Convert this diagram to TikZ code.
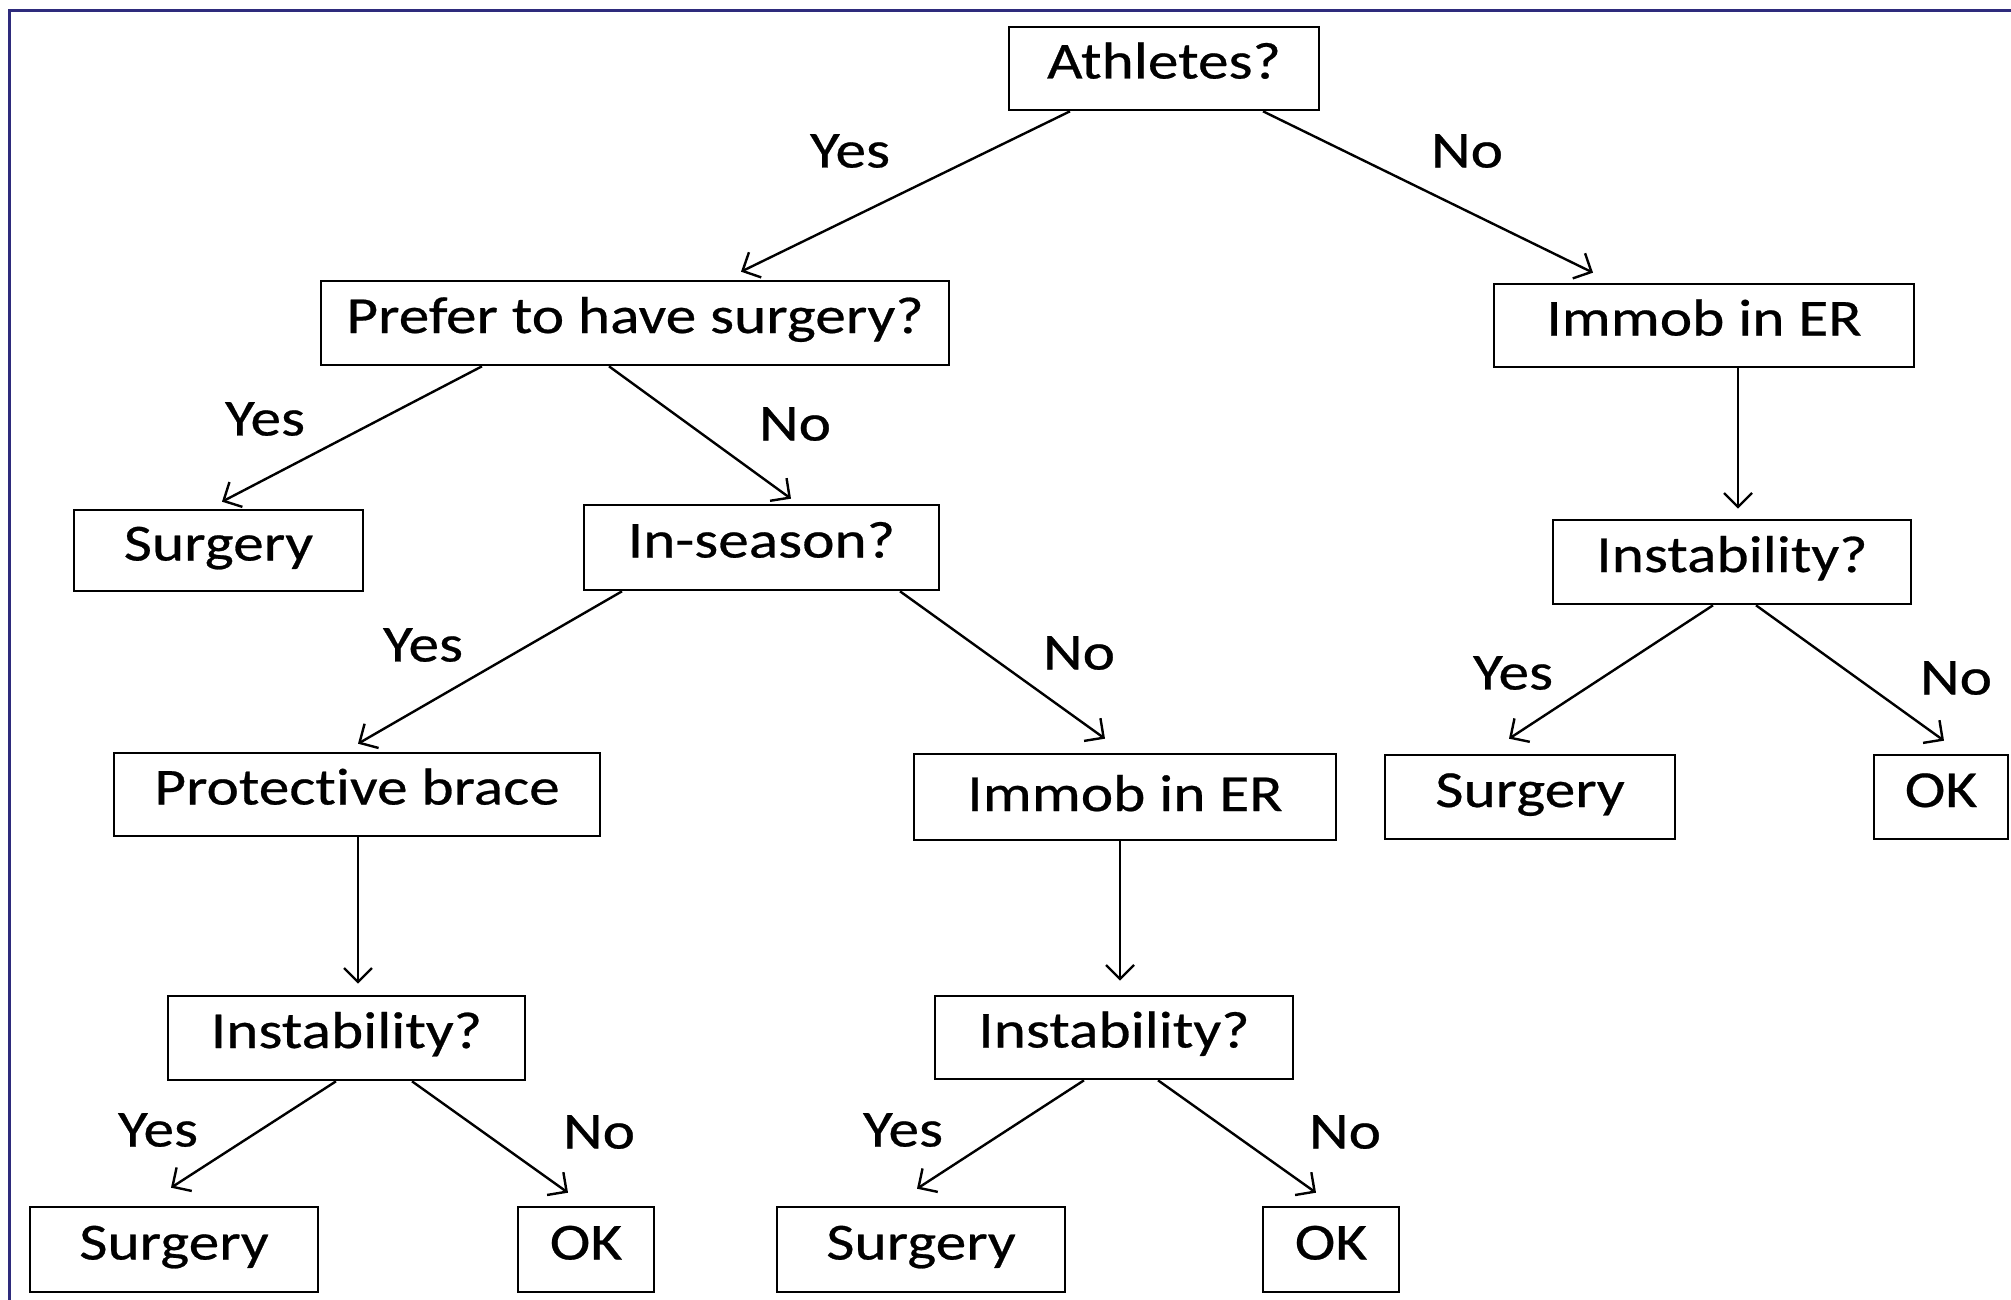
\documentclass[tikz,border=0pt]{standalone}
\usepackage{fontspec}
\setmainfont{Carlito}[FakeStretch=1.18,FakeBold=0.5,RawFeature=-liga]
\usetikzlibrary{arrows.meta}
\definecolor{framecol}{HTML}{2E2B7C}
\begin{document}
\begin{tikzpicture}[x=1pt,y=-1pt,
  box/.style={draw, line width=2.6pt, inner sep=0pt, text height=36pt, text depth=16pt,
    font=\fontsize{52}{60}\selectfont},
  lbl/.style={inner sep=0pt, font=\fontsize{52}{60}\selectfont},
  arr/.style={line width=2.4pt, -{Straight Barb[length=14pt,width=28pt,line width=2.4pt]}}]
\useasboundingbox (0,0) rectangle (2011,1300);
\draw[framecol, line width=3pt] (9,1300) -- (9,11) -- (2011,11);

% boxes
\node[box, minimum width=310pt, minimum height=83pt] (ath) at (1164,68.5) {Athletes?};
\node[box, minimum width=420pt, minimum height=83pt] (immR) at (1704,325.5) {Immob in ER};
\node[box, minimum width=628pt, minimum height=84pt] (pref) at (635,323) {Prefer to have surgery?};
\node[box, minimum width=289pt, minimum height=81pt] (surgA) at (218.5,550.5) {Surgery};
\node[box, minimum width=355pt, minimum height=85pt] (inseas) at (761.5,547.5) {In-season?};
\node[box, minimum width=358pt, minimum height=84pt] (instR) at (1732,562) {Instability?};
\node[box, minimum width=290pt, minimum height=84pt] (surgR) at (1530,797) {Surgery};
\node[box, minimum width=134pt, minimum height=84pt] (okR) at (1941,797) {OK};
\node[box, minimum width=486pt, minimum height=83pt] (brace) at (357,794.5) {Protective brace};
\node[box, minimum width=422pt, minimum height=86pt, text depth=8pt] (immM) at (1125,797) {Immob in ER};
\node[box, minimum width=357pt, minimum height=84pt] (instL) at (346.5,1038) {Instability?};
\node[box, minimum width=288pt, minimum height=85pt] (surgL) at (174,1249.5) {Surgery};
\node[box, minimum width=136pt, minimum height=85pt] (okL) at (586,1249.5) {OK};
\node[box, minimum width=358pt, minimum height=83pt] (instM) at (1114,1037.5) {Instability?};
\node[box, minimum width=288pt, minimum height=85pt] (surgM) at (921,1249.5) {Surgery};
\node[box, minimum width=136pt, minimum height=85pt] (okM) at (1331,1249.5) {OK};

% connectors
\draw[arr] ([xshift=-94pt]ath.south) -- ([xshift=106pt,yshift=8pt]pref.north);
\draw[arr] ([xshift=99pt]ath.south) -- ([xshift=-111pt,yshift=10pt]immR.north);
\draw[arr] ([xshift=-153pt]pref.south) -- ([xshift=3.5pt,yshift=7pt]surgA.north);
\draw[arr] ([xshift=-26pt]pref.south) -- ([xshift=29.5pt,yshift=5pt]inseas.north);
\draw[arr] ([xshift=-139.5pt]inseas.south) -- ([xshift=1pt,yshift=8pt]brace.north);
\draw[arr] ([xshift=138.5pt]inseas.south) -- ([xshift=-20pt,yshift=14pt]immM.north);
\draw[arr] ([xshift=1pt]brace.south) -- ([xshift=11.5pt,yshift=11pt]instL.north);
\draw[arr] ([xshift=-5pt]immM.south) -- ([xshift=6pt,yshift=14pt]instM.north);
\draw[arr] ([xshift=34pt]immR.south) -- ([xshift=6pt,yshift=10pt]instR.north);
\draw[arr] ([xshift=-19pt]instR.south) -- ([xshift=-21pt,yshift=15pt]surgR.north);
\draw[arr] ([xshift=24pt]instR.south) -- ([xshift=3pt,yshift=13pt]okR.north);
\draw[arr] ([xshift=-10.5pt]instL.south) -- ([xshift=-3pt,yshift=18pt]surgL.north);
\draw[arr] ([xshift=65.5pt]instL.south) -- ([xshift=-18pt,yshift=13pt]okL.north);
\draw[arr] ([xshift=-30pt]instM.south) -- ([xshift=-4pt,yshift=17pt]surgM.north);
\draw[arr] ([xshift=44pt]instM.south) -- ([xshift=-15pt,yshift=13pt]okM.north);

% labels
\node[lbl] (y1) at (850,151) {Yes};
\node[lbl] (n1) at (1467,151) {No};
\node[lbl] (y2) at (265,419) {Yes};
\node[lbl] (n2) at (795,424) {No};
\node[lbl] (y3) at (423,645) {Yes};
\node[lbl] (n3) at (1079,653) {No};
\node[lbl] (y4) at (1513,673) {Yes};
\node[lbl] (n4) at (1956,678) {No};
\node[lbl] (y5) at (158,1130) {Yes};
\node[lbl] (n5) at (599,1132) {No};
\node[lbl] (y6) at (903,1130) {Yes};
\node[lbl] (n6) at (1345,1132) {No};
\end{tikzpicture}
\end{document}
